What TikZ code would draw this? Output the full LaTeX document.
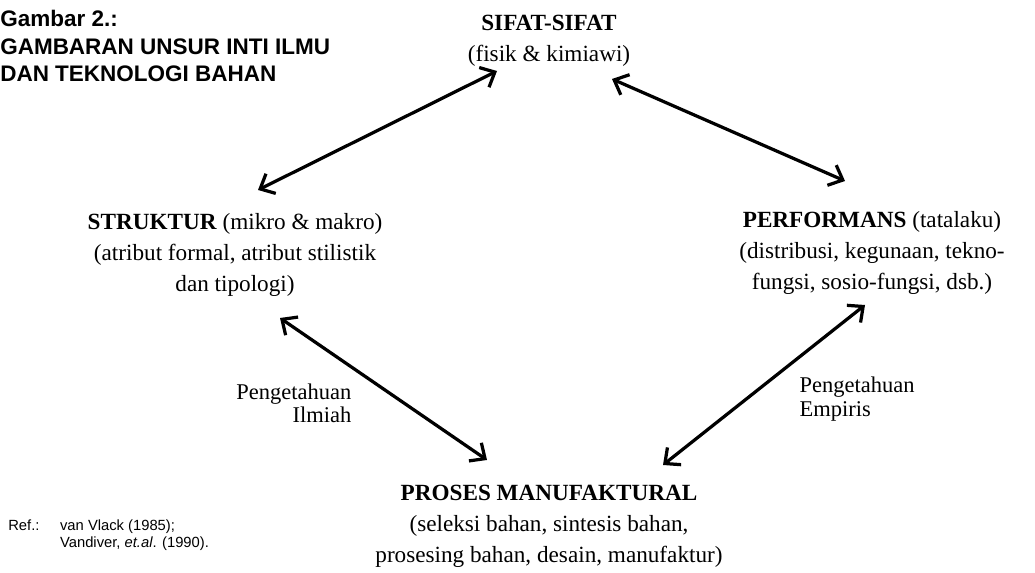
\documentclass[tikz,border=0pt]{standalone}
\usepackage{fontspec}
\setmainfont{Liberation Serif}
\setsansfont{Liberation Sans}
\usetikzlibrary{arrows.meta}

\begin{document}
\begin{tikzpicture}[>={Straight Barb[length=3mm, width=5.5mm]},
  link/.style={<->, line width=2.3pt},
  block/.style={align=center, inner sep=2pt, font=\fontsize{16.5}{22}\selectfont},
  remark/.style={inner sep=1pt, font=\fontsize{16}{16.5}\selectfont}]

% Frame
\useasboundingbox (0,0) rectangle (25.875,14.325);

% Title
\node[anchor=west, align=left, inner sep=0pt, font=\fontsize{16}{19.5}\selectfont\sffamily\bfseries]
  (title) at (0.0,13.17)
  {Gambar 2.:\\GAMBARAN UNSUR INTI ILMU\\DAN TEKNOLOGI BAHAN};

% Four corners
\node[block] (sifat) at (13.725,13.3)
  {\textbf{SIFAT-SIFAT}\\(fisik \& kimiawi)};
\node[block] (struktur) at (5.875,7.95)
  {\textbf{STRUKTUR} (mikro \& makro)\\(atribut formal, atribut stilistik\\dan tipologi)};
\node[block] (performans) at (21.8,8.0)
  {\textbf{PERFORMANS} (tatalaku)\\(distribusi, kegunaan, tekno-\\fungsi, sosio-fungsi, dsb.)};
\node[block] (proses) at (13.725,1.17)
  {\textbf{PROSES MANUFAKTURAL}\\(seleksi bahan, sintesis bahan,\\prosesing bahan, desain, manufaktur)};

% Arrow ends
\coordinate (sifatL) at (12.425,12.55);
\coordinate (sifatR) at (15.3,12.35);
\coordinate (strukturT) at (6.45,9.575);
\coordinate (strukturB) at (7.0,6.375);
\coordinate (performansT) at (21.125,9.8);
\coordinate (performansB) at (21.625,6.7);
\coordinate (prosesL) at (12.175,2.825);
\coordinate (prosesR) at (16.575,2.7);

\draw[link] (strukturT) -- (sifatL);
\draw[link] (sifatR) -- (performansT);
\draw[link] (strukturB) -- (prosesL);
\draw[link] (performansB) -- (prosesR);

% Knowledge labels
\node[remark, anchor=east, align=right] (ilmiah) at (8.825,4.25)
  {Pengetahuan\\Ilmiah};
\node[remark, anchor=west, align=left] (empiris) at (19.95,4.35)
  {Pengetahuan\\Empiris};

% Reference
\node[anchor=west, inner sep=0pt, font=\fontsize{10.5}{11.5}\selectfont\sffamily] (ref) at (0.2,0.93)
  {\begin{tabular}{@{}l@{\hspace{1.4em}}l@{}}
   Ref.: & van Vlack (1985);\\
         & Vandiver, \textit{et.al}. (1990).
   \end{tabular}};

\end{tikzpicture}
\end{document}
